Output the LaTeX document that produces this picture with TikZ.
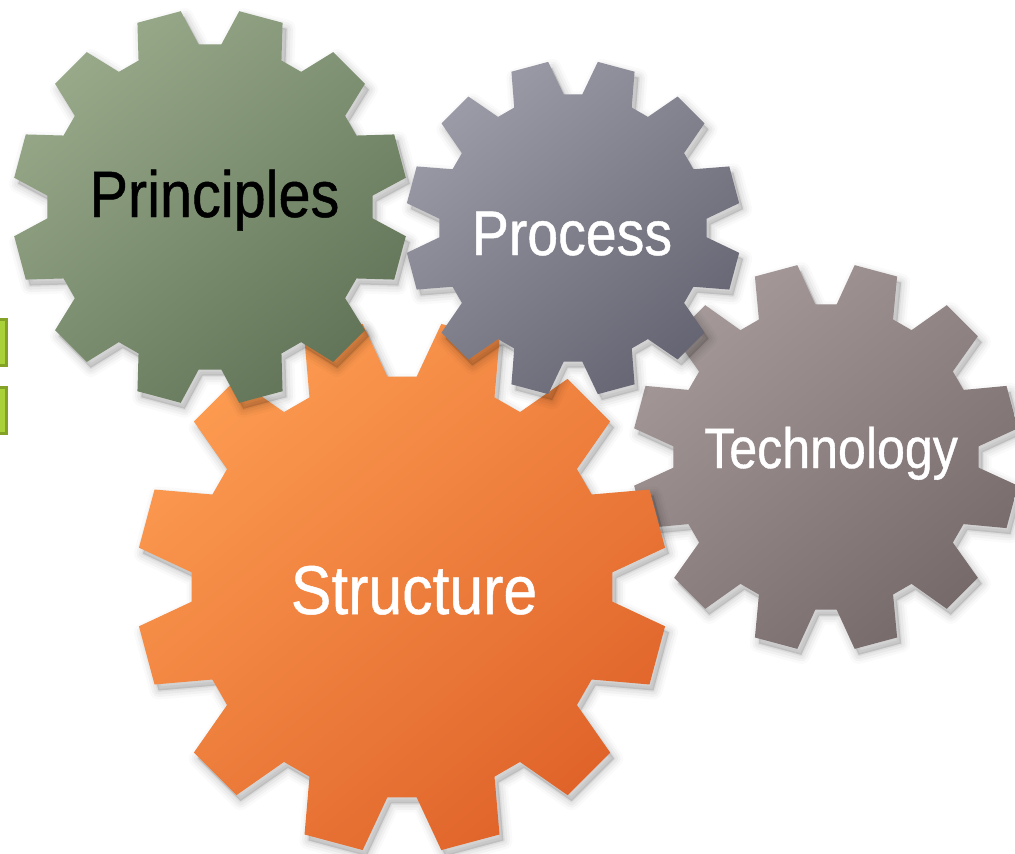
\documentclass[tikz,border=0pt]{standalone}
\usepackage{fontspec}
\newfontfamily\gearfont{Liberation Sans}[FakeStretch=0.88,FakeBold=0.7]
\definecolor{grnA}{HTML}{97A989}
\definecolor{grnB}{HTML}{627558}
\definecolor{prcA}{HTML}{9A9BA6}
\definecolor{prcB}{HTML}{666573}
\definecolor{tecA}{HTML}{A49898}
\definecolor{tecB}{HTML}{766A6A}
\definecolor{orgA}{HTML}{FC9A50}
\definecolor{orgM}{HTML}{F47A26}
\definecolor{orgB}{HTML}{E0642A}
\definecolor{sqFill}{HTML}{A8D13A}
\definecolor{sqEdge}{HTML}{84A226}
% cx cy R Rin
\newcommand\mygearpath[4]{({#1+#4*cos(4)},{#2+#4*sin(4)})
  \foreach \a in {15,45,...,345}{
    -- ({#1+#4*cos(\a-11)},{#2+#4*sin(\a-11)})
    -- ({#1+#3*cos(\a-6.5)},{#2+#3*sin(\a-6.5)})
    -- ({#1+#3*cos(\a+6.5)},{#2+#3*sin(\a+6.5)})
    -- ({#1+#4*cos(\a+11)},{#2+#4*sin(\a+11)}) } -- cycle}
\newcommand\gearshadow[4]{%
  \foreach \w/\o in {18/0.02,13/0.03,8/0.04,3/0.05}{
    \fill[black,opacity=\o,draw=black,line width=\w pt,line join=round]
      \mygearpath{#1+4}{#2+6}{#3}{#4};}}
\tikzset{
  geartext/.style={anchor=base,inner sep=0pt,font=\gearfont},
  square/.style={fill=sqFill,draw=sqEdge,line width=3pt}
}
\begin{document}
\begin{tikzpicture}[x=1pt,y=-1pt]
\useasboundingbox (0,0) rectangle (1015,854);
\clip (0,0) rectangle (1015,854);
% small squares at left edge
\path[square] (-30,319.5) rectangle (6.5,365.5);
\path[square] (-30,387.5) rectangle (6.5,433.5);
% Technology gear
\gearshadow{826}{457}{194}{153}
\shade[top color=tecA,bottom color=tecB,shading angle=40] \mygearpath{826}{457}{194}{153};
% Structure gear
\gearshadow{402}{587}{266}{211}
\shade[top color=orgA,middle color=orgM,bottom color=orgB,shading angle=40] \mygearpath{402}{587}{266}{211};
% Principles gear
\gearshadow{210}{207}{198}{163}
\shade[top color=grnA,bottom color=grnB,shading angle=40] \mygearpath{210}{207}{198}{163};
% Process gear
\gearshadow{573}{228}{168}{134}
\shade[top color=prcA,bottom color=prcB,shading angle=40] \mygearpath{573}{228}{168}{134};
% labels
\node[geartext,text=black,font=\gearfont\fontsize{65.5}{70}\selectfont] (principles) at (214.5,217) {Principles};
\node[geartext,text=white,font=\gearfont\fontsize{63}{70}\selectfont] (process) at (572,255) {Process};
\node[geartext,text=white,font=\gearfont\fontsize{57}{65}\selectfont] (technology) at (831,468) {Technology};
\node[geartext,text=white,font=\gearfont\fontsize{69}{75}\selectfont] (structure) at (414,614) {Structure};
\end{tikzpicture}
\end{document}
